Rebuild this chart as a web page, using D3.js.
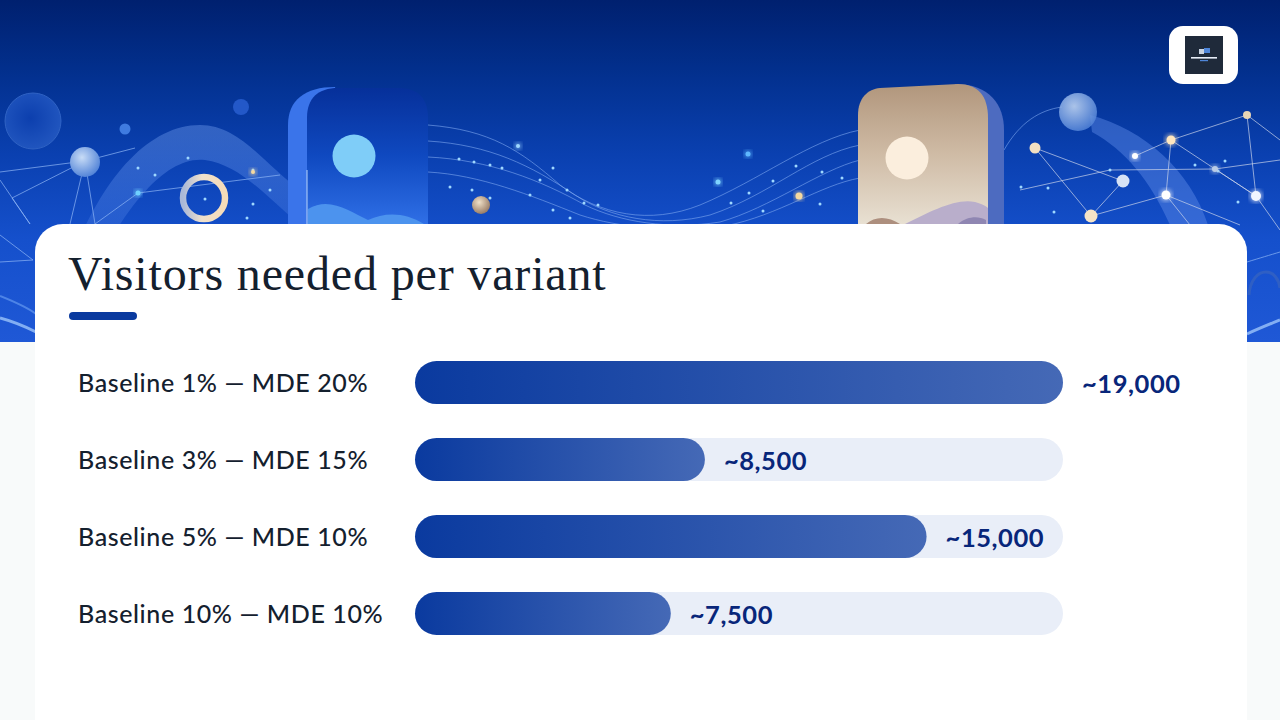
<!DOCTYPE html>
<html>
<head>
<meta charset="utf-8">
<script src="https://cdn.jsdelivr.net/npm/d3@7"></script>
<style>
html, body { margin: 0; padding: 0; background: #f8fafa; overflow: hidden; }
svg { display: block; }
</style>
</head>
<body>
<svg id="chart" width="1280" height="720"></svg>
<script>
// chart data
var categories = ['Baseline 1% — MDE 20%', 'Baseline 3% — MDE 15%', 'Baseline 5% — MDE 10%', 'Baseline 10% — MDE 10%'];
var visitors = [19000, 8500, 15000, 7500];
var valueLabels = ['~19,000', '~8,500', '~15,000', '~7,500'];
var chartTitle = 'Visitors needed per variant';

var svg = d3.select('#chart');
var defs = svg.append('defs');

function linearGradient(id, x2, y2, stops) {
    var grad = defs.append('linearGradient').attr('id', id)
        .attr('x1', 0).attr('y1', 0).attr('x2', x2).attr('y2', y2);
    stops.forEach(function(s) {
        grad.append('stop').attr('offset', s[0]).attr('stop-color', s[1]);
    });
}

linearGradient('skyGrad', 0, 1, [[0, '#00206f'], [0.2, '#022f8c'], [0.45, '#0a40b0'], [0.7, '#1550cc'], [1, '#1f58d6']]);
linearGradient('barGrad', 1, 0, [[0, '#0a3a9f'], [1, '#4569b6']]);
linearGradient('phoneBlue', 0, 1, [[0, '#06309a'], [0.5, '#0f49c0'], [1, '#2f6fe6']]);
linearGradient('phoneTan', 0, 1, [[0, '#b1967c'], [0.5, '#cfbba5'], [1, '#e8e0d2']]);
linearGradient('ringGrad', 1, 0, [[0, '#a9b8d8'], [0.45, '#efe0cc'], [1, '#f6dcb8']]);
linearGradient('ribbonGrad', 0, 1, [[0, '#6f9bec'], [1, '#2f66d8']]);

defs.append('filter').attr('id', 'glow').append('feGaussianBlur').attr('stdDeviation', 2.2);

var bubbleGrad = defs.append('radialGradient').attr('id', 'bubble')
    .attr('cx', 0.4).attr('cy', 0.35).attr('r', 0.7);
bubbleGrad.append('stop').attr('offset', 0).attr('stop-color', '#c8dcf6');
bubbleGrad.append('stop').attr('offset', 1).attr('stop-color', '#4c7fd6');
var darkBubble = defs.append('radialGradient').attr('id', 'darkBubble')
    .attr('cx', 0.45).attr('cy', 0.45).attr('r', 0.6);
darkBubble.append('stop').attr('offset', 0).attr('stop-color', '#0c3fae');
darkBubble.append('stop').attr('offset', 1).attr('stop-color', '#2257c0');
var tanBall = defs.append('radialGradient').attr('id', 'tanBall')
    .attr('cx', 0.4).attr('cy', 0.35).attr('r', 0.7);
tanBall.append('stop').attr('offset', 0).attr('stop-color', '#efe0c8');
tanBall.append('stop').attr('offset', 1).attr('stop-color', '#94765f');

/*
 * Banner illustration behind the card
 */
var banner = svg.append('g');
banner.append('rect').attr('width', 1280).attr('height', 342).attr('fill', 'url(#skyGrad)');

// ribbons
banner.append('path')
    .attr('d', 'M75,250 C105,175 150,125 200,125 C240,125 265,165 300,190 L300,225 C265,195 240,165 205,160 C165,155 125,210 100,260 Z')
    .attr('fill', 'url(#ribbonGrad)').attr('opacity', 0.42);
banner.append('path')
    .attr('d', 'M1090,115 C1145,130 1190,170 1208,225 L1170,225 C1150,180 1125,150 1092,132 Z')
    .attr('fill', '#5f8ce8').attr('opacity', 0.45);
banner.append('path')
    .attr('d', 'M1004,150 C1020,122 1040,110 1062,107')
    .attr('fill', 'none').attr('stroke', '#7ea8f0').attr('stroke-width', 1).attr('opacity', 0.6);

// flowing lines between the two cards
var flowLines = [
    'M428,125 C490,130 520,150 560,185 C600,215 650,225 700,205 C760,180 810,140 860,130',
    'M428,141 C490,145 530,165 575,195 C610,218 660,228 710,215 C770,195 810,155 860,145',
    'M428,157 C490,160 540,180 585,205 C620,222 670,230 720,222 C770,208 820,170 860,160',
    'M428,172 C480,175 530,195 580,215 C620,228 670,232 725,226 C780,215 820,185 860,178'
];
banner.selectAll('path.flow').data(flowLines).enter().append('path')
    .attr('class', 'flow').attr('d', function(d) { return d; })
    .attr('fill', 'none').attr('stroke', '#7ea8f0').attr('stroke-width', 1).attr('opacity', 0.6);

// network lines
var netNodes = {
    a: [85, 161], b: [0, 172], c: [12, 198], d: [70, 224], e: [95, 224], f: [0, 180], g: [30, 224], h: [0, 235], i: [33, 260],
    j: [138, 193], k: [280, 175], l: [135, 148], m: [0, 262],
    r1: [1035, 148], r2: [1091, 216], r3: [1123, 181], r4: [1171, 140], r5: [1135, 156], r6: [1166, 195],
    r7: [1247, 115], r8: [1256, 196], r9: [1215, 169], r10: [1280, 140], r11: [1190, 225], r12: [1280, 230],
    r13: [1020, 190], r14: [1110, 170], r15: [1240, 225], r16: [1280, 160]
};
var netLinks = [
    ['a', 'b'], ['a', 'c'], ['a', 'd'], ['a', 'e'], ['a', 'l'], ['f', 'g'], ['c', 'g'], ['h', 'i'], ['m', 'i'],
    ['j', 'k'], ['j', 'e'],
    ['r1', 'r2'], ['r1', 'r3'], ['r2', 'r3'], ['r2', 'r6'], ['r5', 'r4'], ['r4', 'r7'], ['r4', 'r6'],
    ['r4', 'r9'], ['r9', 'r8'], ['r7', 'r8'], ['r7', 'r10'], ['r6', 'r11'], ['r8', 'r12'],
    ['r13', 'r14'], ['r14', 'r9'], ['r9', 'r16'], ['r6', 'r15'], ['r8', 'r9']
];
banner.selectAll('line.net').data(netLinks).enter().append('line')
    .attr('class', 'net')
    .attr('x1', function(d) { return netNodes[d[0]][0]; })
    .attr('y1', function(d) { return netNodes[d[0]][1]; })
    .attr('x2', function(d) { return netNodes[d[1]][0]; })
    .attr('y2', function(d) { return netNodes[d[1]][1]; })
    .attr('stroke', function(d) { return d[0][0] === 'r' ? '#c9d3ea' : '#8fb6f5'; })
    .attr('stroke-width', 1).attr('opacity', 0.7);

// light streaks at the edges, under the card
banner.append('path').attr('d', 'M0,296 C15,302 28,308 36,314').attr('fill', 'none').attr('stroke', '#6fa4f5').attr('stroke-width', 2).attr('opacity', 0.6);
banner.append('path').attr('d', 'M0,318 C15,322 28,328 36,332').attr('fill', 'none').attr('stroke', '#9cc4fa').attr('stroke-width', 3).attr('opacity', 0.8);
banner.append('path').attr('d', 'M1247,334 C1260,328 1270,324 1280,320').attr('fill', 'none').attr('stroke', '#9cc4fa').attr('stroke-width', 3).attr('opacity', 0.8);
banner.append('path').attr('d', 'M1247,262 C1260,258 1270,255 1280,252').attr('fill', 'none').attr('stroke', '#8fb6f5').attr('stroke-width', 1).attr('opacity', 0.7);
banner.append('path').attr('d', 'M1249,295 C1250,280 1258,272 1266,272 C1274,272 1279,280 1280,288').attr('fill', 'none').attr('stroke', '#2f5fc4').attr('stroke-width', 3);

// small sparkle dots
var sparkles = [
    [138, 168], [155, 175], [188, 158], [253, 170], [253, 204], [247, 218], [205, 199], [270, 190],
    [459, 159], [474, 162], [490, 165], [502, 168], [540, 180], [553, 168], [567, 190], [584, 203],
    [598, 205], [450, 187], [472, 190], [490, 198], [530, 195], [553, 210], [570, 218],
    [749, 193], [731, 203], [763, 211], [820, 204], [842, 178], [822, 172], [796, 166], [773, 181],
    [1048, 188], [1021, 187], [1054, 212], [1218, 171], [1238, 202], [1225, 161], [1195, 165], [1110, 170]
];
banner.selectAll('circle.spark').data(sparkles).enter().append('circle')
    .attr('class', 'spark')
    .attr('cx', function(d) { return d[0]; }).attr('cy', function(d) { return d[1]; })
    .attr('r', 1.5).attr('fill', '#9fd8ff');

// glowing nodes
var glowNodes = [
    [1171, 140, 4.5, '#ffe7bf'], [1166, 195, 4.5, '#ffffff'], [1135, 156, 3, '#ffffff'], [1256, 196, 5, '#f2f6ff'],
    [1215, 169, 3, '#b9cbe6'], [799, 196, 3.5, '#f5d9a0'], [718, 182, 2.5, '#7fd4ff'], [748, 154, 2.5, '#5fb8ff'],
    [138, 193, 2.5, '#6fd0ff'], [253, 172, 2, '#f5d9a0'], [518, 146, 2, '#9fd8ff']
];
var glow = banner.selectAll('g.node').data(glowNodes).enter().append('g').attr('class', 'node');
glow.append('circle')
    .attr('cx', function(d) { return d[0]; }).attr('cy', function(d) { return d[1]; })
    .attr('r', function(d) { return d[2] + 1.5; }).attr('fill', function(d) { return d[3]; })
    .attr('opacity', 0.6).attr('filter', 'url(#glow)');
glow.append('circle')
    .attr('cx', function(d) { return d[0]; }).attr('cy', function(d) { return d[1]; })
    .attr('r', function(d) { return d[2]; }).attr('fill', function(d) { return d[3]; });

// bubbles and balls
banner.append('circle').attr('cx', 33).attr('cy', 121).attr('r', 28).attr('fill', 'url(#darkBubble)').attr('stroke', '#2f62c4').attr('stroke-width', 1);
banner.append('circle').attr('cx', 85).attr('cy', 162).attr('r', 15).attr('fill', 'url(#bubble)');
banner.append('circle').attr('cx', 125).attr('cy', 129).attr('r', 5.5).attr('fill', '#3f7be0');
banner.append('circle').attr('cx', 241).attr('cy', 107).attr('r', 8).attr('fill', '#2358c8');
banner.append('circle').attr('cx', 481).attr('cy', 205).attr('r', 9).attr('fill', 'url(#tanBall)');
banner.append('circle').attr('cx', 1078).attr('cy', 112).attr('r', 19).attr('fill', 'url(#bubble)').attr('opacity', 0.85);
banner.append('circle').attr('cx', 1035).attr('cy', 148).attr('r', 5.5).attr('fill', '#f2e0c2');
banner.append('circle').attr('cx', 1091).attr('cy', 216).attr('r', 6.5).attr('fill', '#f5e3c6');
banner.append('circle').attr('cx', 1123).attr('cy', 181).attr('r', 6.5).attr('fill', '#d6e2f5');
banner.append('circle').attr('cx', 1247).attr('cy', 115).attr('r', 4).attr('fill', '#e8d5b5');
banner.append('circle').attr('cx', 204).attr('cy', 198).attr('r', 21).attr('fill', 'none').attr('stroke', 'url(#ringGrad)').attr('stroke-width', 6.5);

// left card with the picture icon
banner.append('path').attr('d', 'M288,224 L288,125 C288,100 305,87 335,87 L340,110 L320,224 Z').attr('fill', '#3a74ea');
banner.append('path').attr('d', 'M307,224 L307,118 C307,98 318,88 338,88 L398,88 C418,88 428,98 428,118 L428,224 Z').attr('fill', 'url(#phoneBlue)');
banner.append('line').attr('x1', 307).attr('y1', 170).attr('x2', 307).attr('y2', 224).attr('stroke', '#b8d4fa').attr('stroke-width', 1);
banner.append('circle').attr('cx', 354).attr('cy', 156).attr('r', 21.5).attr('fill', '#7fcdf8');
banner.append('path').attr('d', 'M308,209 C330,196 350,212 368,220 C385,212 405,212 424,224 L308,224 Z').attr('fill', '#4c93ee');

// right card with the picture icon
banner.append('path').attr('d', 'M955,84 C990,84 1004,105 1004,130 L1004,224 L970,224 Z').attr('fill', '#4d6bc0');
banner.append('path').attr('d', 'M858,224 L858,115 C858,98 868,89 880,88 L958,84 C978,84 988,96 988,118 L988,224 Z').attr('fill', 'url(#phoneTan)');
banner.append('circle').attr('cx', 907).attr('cy', 158).attr('r', 21.5).attr('fill', '#fbeedd');
banner.append('path').attr('d', 'M905,224 C930,212 955,198 975,202 C982,204 986,206 988,208 L988,224 Z').attr('fill', '#b9aecb');
banner.append('path').attr('d', 'M866,224 C875,216 888,216 900,224 Z').attr('fill', '#ad8f7e');
banner.append('path').attr('d', 'M958,224 C968,216 978,216 986,220 L986,224 Z').attr('fill', '#8f86b2');

// logo badge
banner.append('rect').attr('x', 1169).attr('y', 26).attr('width', 69).attr('height', 58).attr('rx', 14).attr('fill', '#ffffff');
banner.append('rect').attr('x', 1185).attr('y', 36).attr('width', 38).attr('height', 38).attr('fill', '#1f2a3a');
banner.append('rect').attr('x', 1204).attr('y', 48).attr('width', 6).attr('height', 5).attr('fill', '#4f86d8');
banner.append('rect').attr('x', 1199).attr('y', 49).attr('width', 5).attr('height', 5).attr('fill', '#c8d2e0');
banner.append('rect').attr('x', 1191).attr('y', 57).attr('width', 26).attr('height', 1.6).attr('fill', '#e6edf7');
banner.append('rect').attr('x', 1200).attr('y', 60).attr('width', 8).attr('height', 1.2).attr('fill', '#4f86d8');

/*
 * White card with title
 */
svg.append('rect').attr('x', 35).attr('y', 224).attr('width', 1212).attr('height', 540).attr('rx', 28).attr('fill', '#ffffff');

svg.append('text')
    .attr('x', 68).attr('y', 290)
    .attr('font-family', '"Liberation Serif", serif')
    .attr('font-size', 48).attr('letter-spacing', 0.85).attr('fill', '#14202e')
    .text(chartTitle);
svg.append('rect').attr('x', 69).attr('y', 312).attr('width', 68).attr('height', 8).attr('rx', 4).attr('fill', '#0a3a9f');

/*
 * Bars
 */
var x = d3.scaleLinear().domain([0, d3.max(visitors)]).range([415, 1063]);
var y = d3.scaleBand().domain(categories).range([361, 635]).paddingInner(0.44);

var rows = svg.selectAll('g.row').data(categories).enter().append('g').attr('class', 'row');

rows.append('text')
    .attr('x', 78)
    .attr('y', function(d) { return y(d) + y.bandwidth() / 2 + 1; })
    .attr('dy', '0.35em')
    .attr('font-family', 'Lato, sans-serif').attr('font-weight', 500)
    .attr('font-size', 25).attr('letter-spacing', 0.6).attr('fill', '#14202e')
    .text(function(d) { return d; });

rows.append('rect')
    .attr('x', x(0))
    .attr('y', function(d) { return y(d); })
    .attr('width', x.range()[1] - x(0))
    .attr('height', y.bandwidth())
    .attr('rx', y.bandwidth() / 2)
    .attr('fill', '#e9eef8');

rows.append('rect')
    .attr('x', x(0))
    .attr('y', function(d) { return y(d); })
    .attr('width', function(d, i) { return x(visitors[i]) - x(0); })
    .attr('height', y.bandwidth())
    .attr('rx', y.bandwidth() / 2)
    .attr('fill', 'url(#barGrad)');

rows.append('text')
    .attr('x', function(d, i) { return x(visitors[i]) + 19; })
    .attr('y', function(d) { return y(d) + y.bandwidth() / 2 + 1; })
    .attr('dy', '0.36em')
    .attr('font-family', 'Lato, sans-serif').attr('font-weight', 700)
    .attr('font-size', 25.5).attr('letter-spacing', 0.55).attr('fill', '#08267a')
    .text(function(d, i) { return valueLabels[i]; });
</script>
</body>
</html>
